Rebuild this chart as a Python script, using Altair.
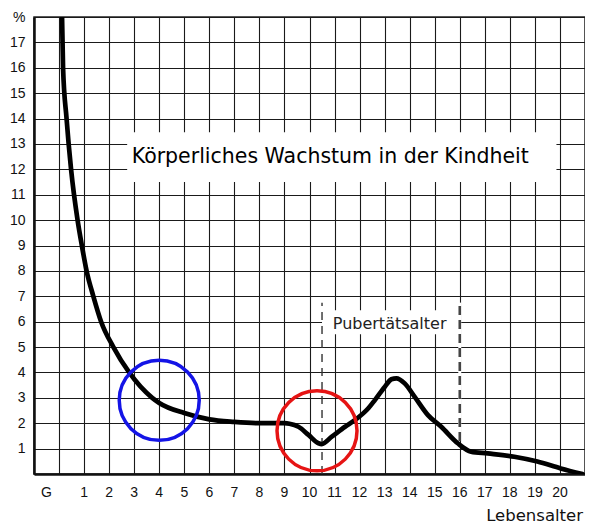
import altair as alt
import pandas as pd

# Curve: growth rate (%) vs age (years)
curve_x = [0.12, 0.16, 0.30, 0.48, 0.74, 0.91, 1.10, 1.37, 1.68, 2.17, 2.80, 3.72,
           4.0, 5.0, 6.0, 7.0, 8.0, 9.0, 9.2, 9.56, 9.96, 10.36, 10.49, 10.89, 11.42, 11.82, 12.35,
           12.61, 13.01, 13.27, 13.47, 13.80, 14.20, 14.73, 15.26, 15.92, 16.45, 17.12, 18.18,
           19.1, 20.03, 20.9]
curve_y = [18, 16, 14, 12, 10, 9, 8, 7, 6, 5, 4, 3,
           2.8, 2.4, 2.15, 2.05, 2.0, 2.0, 1.98, 1.86, 1.54, 1.21, 1.18, 1.47, 1.86, 2.13, 2.59,
           2.91, 3.44, 3.73, 3.77, 3.57, 3.04, 2.32, 1.86, 1.21, 0.88, 0.81, 0.68,
           0.49, 0.22, 0.0]

x_tick_labels = ["G"] + [str(i) for i in range(1, 21)]
x_tick_pos = [-0.5] + list(range(1, 21))

title_text = "Körperliches Wachstum in der Kindheit"
puberty_text = "Pubertätsalter"
x_axis_title = "Lebensalter"
puberty_start = 10.5
puberty_end = 16

circle_x = [4.0, 10.3]
circle_y = [2.9, 1.7]
circle_color = ["#1414e6", "#e61414"]

xs = alt.Scale(domain=[-1, 21], nice=False, zero=False)
ys = alt.Scale(domain=[0, 18], nice=False, zero=False)

xaxis = alt.Axis(values=list(range(-1, 22)), labels=False, ticks=False, title=None,
                 grid=True, gridColor="#1a1a1a", gridWidth=1.1, gridOpacity=1,
                 domain=True, domainColor="#111", domainWidth=2.5)
yaxis = alt.Axis(values=list(range(0, 19)), title=None, ticks=False,
                 grid=True, gridColor="#1a1a1a", gridWidth=1.1, gridOpacity=1,
                 domain=True, domainColor="#111", domainWidth=2.5,
                 labelExpr="datum.value == 0 ? '' : (datum.value == 18 ? '%' : datum.label)",
                 labelFont="Liberation Sans", labelFontSize=14, labelColor="#111",
                 labelPadding=9)

df_curve = pd.DataFrame({"x": curve_x, "y": curve_y})

curve = alt.Chart(df_curve).mark_line(
    interpolate="monotone", color="#000", strokeWidth=4.7, strokeCap="round", clip=True
).encode(x=alt.X("x:Q", scale=xs, axis=xaxis), y=alt.Y("y:Q", scale=ys, axis=yaxis))

boxes = pd.DataFrame({"x": [2.72, 10.5], "x2": [19.86, 16.0], "y": [11.5, 5.5], "y2": [13.46, 6.45]})
box_layer = alt.Chart(boxes).mark_rect(color="white").encode(
    x=alt.X("x:Q", scale=xs, axis=xaxis), x2="x2", y=alt.Y("y:Q", scale=ys, axis=yaxis), y2="y2")

title_df = pd.DataFrame({"x": [10.83], "y": [12.48], "t": [title_text]})
title_layer = alt.Chart(title_df).mark_text(
    font="DejaVu Sans", fontSize=20.5, color="#000", align="center", baseline="middle"
).encode(x=alt.X("x:Q", scale=xs, axis=xaxis), y=alt.Y("y:Q", scale=ys, axis=yaxis), text="t")

pub_df = pd.DataFrame({"x": [13.2], "y": [5.9], "t": [puberty_text]})
pub_layer = alt.Chart(pub_df).mark_text(
    font="DejaVu Sans", fontSize=16, color="#222", align="center", baseline="middle"
).encode(x=alt.X("x:Q", scale=xs, axis=xaxis), y=alt.Y("y:Q", scale=ys, axis=yaxis), text="t")

dash_df = pd.DataFrame({"x": [puberty_start, puberty_end], "y": [0.0, 1.3], "y2": [6.75, 6.75],
                        "w": ["a", "b"]})
white_under = alt.Chart(dash_df[dash_df.w == "b"]).mark_rule(color="white", strokeWidth=3).encode(
    x=alt.X("x:Q", scale=xs, axis=xaxis), y=alt.Y("y:Q", scale=ys, axis=yaxis), y2="y2")
dash1 = alt.Chart(dash_df[dash_df.w == "a"]).mark_rule(
    color="#333", strokeWidth=1.4, strokeDash=[8, 6]).encode(
    x=alt.X("x:Q", scale=xs, axis=xaxis), y=alt.Y("y:Q", scale=ys, axis=yaxis), y2="y2")
dash2 = alt.Chart(dash_df[dash_df.w == "b"]).mark_rule(
    color="#444", strokeWidth=2.6, strokeDash=[9, 5]).encode(
    x=alt.X("x:Q", scale=xs, axis=xaxis), y=alt.Y("y:Q", scale=ys, axis=yaxis), y2="y2")

circ_df = pd.DataFrame({"x": circle_x, "y": circle_y, "c": circle_color})
circles = alt.Chart(circ_df).mark_point(
    shape="circle", size=6400, filled=False, strokeWidth=3.5, opacity=1
).encode(x=alt.X("x:Q", scale=xs, axis=xaxis), y=alt.Y("y:Q", scale=ys, axis=yaxis),
         color=alt.Color("c:N", scale=None))

xl_df = pd.DataFrame({"x": x_tick_pos, "t": x_tick_labels})
xlabels = alt.Chart(xl_df).mark_text(
    font="Liberation Sans", fontSize=14, color="#111", align="center", baseline="middle"
).encode(x=alt.X("x:Q", scale=xs, axis=xaxis), y=alt.value(476), text="t")

xt_df = pd.DataFrame({"t": [x_axis_title]})
xtitle = alt.Chart(xt_df).mark_text(
    font="DejaVu Sans", fontSize=16.5, color="#111", align="right", baseline="middle"
).encode(x=alt.value(549), y=alt.value(499), text="t")

chart = alt.layer(
    box_layer, white_under, dash1, dash2, curve, title_layer, pub_layer, circles, xlabels, xtitle
).properties(
    width=551, height=457,
    padding={"left": 26, "top": 9, "right": 0, "bottom": 50},
    autosize="none", background="white"
).configure_view(stroke="#222", strokeWidth=1.5)

chart.save("out.html", embed_options={"renderer": "svg", "actions": False})
